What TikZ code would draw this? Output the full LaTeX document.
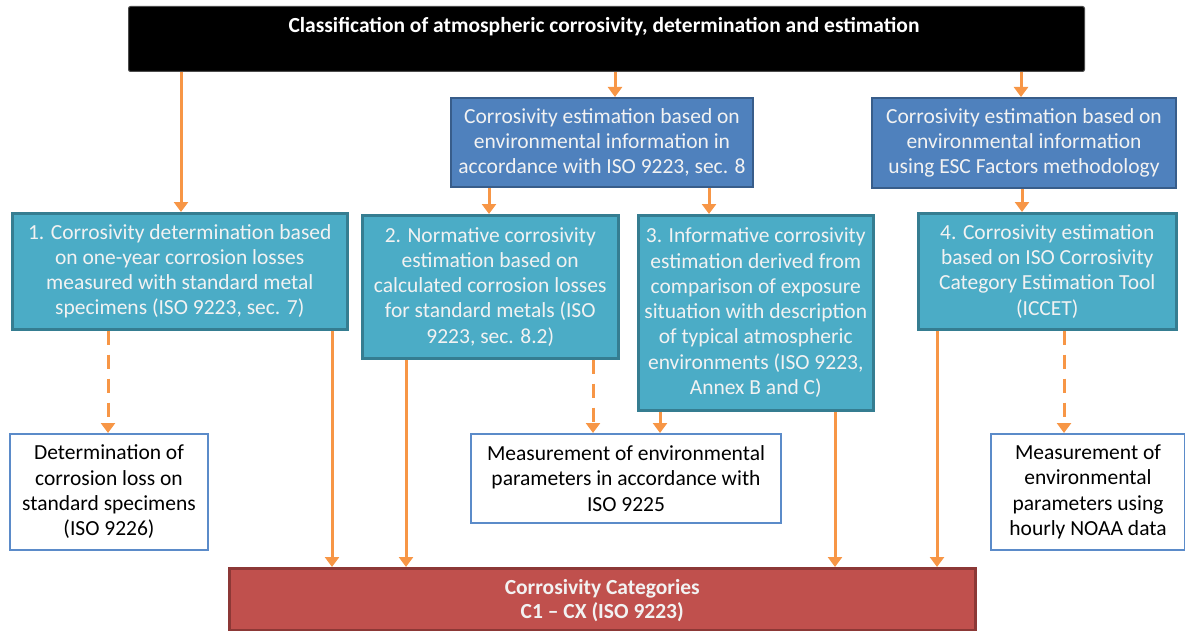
\documentclass[tikz,border=0pt]{standalone}
\usepackage{fontspec}
\setmainfont{Carlito}
\usetikzlibrary{arrows.meta}
\definecolor{cblue}{HTML}{4F81BD}
\definecolor{cbluedark}{HTML}{385D8A}
\definecolor{cteal}{HTML}{4BACC6}
\definecolor{ctealdark}{HTML}{357D91}
\definecolor{cred}{HTML}{C0504D}
\definecolor{creddark}{HTML}{8C3836}
\definecolor{corange}{HTML}{F79646}
\definecolor{cwline}{HTML}{5B8BC9}
\definecolor{ctext}{HTML}{F2F2F2}
\tikzset{
  base/.style={anchor=north west, align=center, inner sep=1pt, font=\fontsize{21.5}{25.3}\selectfont},
  bluebox/.style={base, fill=cblue, draw=cbluedark, line width=2pt, text=ctext},
  tealbox/.style={base, fill=cteal, draw=ctealdark, line width=2.5pt, text=ctext},
  whitebox/.style={base, fill=white, draw=cwline, line width=2pt, text=black},
  redbox/.style={base, fill=cred, draw=creddark, line width=2.5pt, text=ctext, font=\fontsize{21.5}{23.5}\selectfont\bfseries},
  topbox/.style={anchor=north west, fill=black, draw=black!70, line width=1pt, rounded corners=2pt},
  titletext/.style={text=white, font=\fontsize{21.5}{24}\selectfont\bfseries},
  arr/.style={draw=corange, line width=3pt, -{Triangle[width=14pt,length=10pt]}},
  darr/.style={arr, dash pattern=on 14pt off 10pt},
}
\begin{document}
\begin{tikzpicture}[x=1pt,y=-1pt]
\useasboundingbox (0,0) rectangle (1185,631);
% top
\node[topbox, minimum width=956pt, minimum height=65pt] (top) at (128,6) {};
\node[titletext] (title) at (604,27) {Classification of atmospheric corrosivity, determination and estimation};
% second row
\node[bluebox, minimum width=302pt, minimum height=89pt] (A) at (450,97)
  {Corrosivity estimation based on\\environmental information in\\accordance with ISO 9223, sec. 8};
\node[bluebox, minimum width=304pt, minimum height=90pt] (B) at (871,97)
  {Corrosivity estimation based on\\environmental information\\using ESC Factors methodology};
% third row
\node[tealbox, minimum width=335pt, minimum height=116pt] (b1) at (11,212)
  {1. Corrosivity determination based\\on one-year corrosion losses\\measured with standard metal\\specimens (ISO 9223, sec. 7)};
\node[tealbox, minimum width=256pt, minimum height=143pt] (b2) at (361,214)
  {2. Normative corrosivity\\estimation based on\\calculated corrosion losses\\for standard metals (ISO\\9223, sec. 8.2)};
\node[tealbox, minimum width=235pt, minimum height=195pt] (b3) at (637,214)
  {3. Informative corrosivity\\estimation derived from\\comparison of exposure\\situation with description\\of typical atmospheric\\environments (ISO 9223,\\Annex B and C)};
\node[tealbox, minimum width=258pt, minimum height=116pt] (b4) at (917,212)
  {4. Corrosivity estimation\\based on ISO Corrosivity\\Category Estimation Tool\\(ICCET)};
% white boxes
\node[whitebox, minimum width=198pt, minimum height=116pt] (d1) at (9,433)
  {Determination of\\corrosion loss on\\standard specimens\\(ISO 9226)};
\node[whitebox, minimum width=310pt, minimum height=89pt] (d2) at (470,433)
  {Measurement of environmental\\parameters in accordance with\\ISO 9225};
\node[whitebox, minimum width=194pt, minimum height=116pt] (d3) at (990,433)
  {Measurement of\\environmental\\parameters using\\hourly NOAA data};
% red
\node[redbox, minimum width=746pt, minimum height=62pt, text depth=1pt] (red) at (228,567)
  {Corrosivity Categories\\C1 – CX (ISO 9223)};
% connectors
\draw[arr] (top.south -| 181,0) -- (b1.north -| 181,0);
\draw[arr] (top.south -| 615,0) -- (A.north -| 615,0);
\draw[arr] (top.south -| 1021,0) -- (B.north -| 1021,0);
\draw[arr] (A.south -| 489,0) -- (b2.north -| 489,0);
\draw[arr] (A.south -| 709,0) -- (b3.north -| 709,0);
\draw[arr] (B.south -| 1022,0) -- (b4.north -| 1022,0);
\draw[darr] (b1.south -| 108,0) -- (d1.north -| 108,0);
\draw[arr] (b1.south -| 332,0) -- (red.north -| 332,0);
\draw[arr] (b2.south -| 406,0) -- (red.north -| 406,0);
\draw[darr] (b2.south -| 593,0) -- (d2.north -| 593,0);
\draw[arr] (b3.south -| 660,0) -- (d2.north -| 660,0);
\draw[arr] (b3.south -| 835,0) -- (red.north -| 835,0);
\draw[arr] (b4.south -| 937,0) -- (red.north -| 937,0);
\draw[darr] (b4.south -| 1064,0) -- (d3.north -| 1064,0);
\end{tikzpicture}
\end{document}
